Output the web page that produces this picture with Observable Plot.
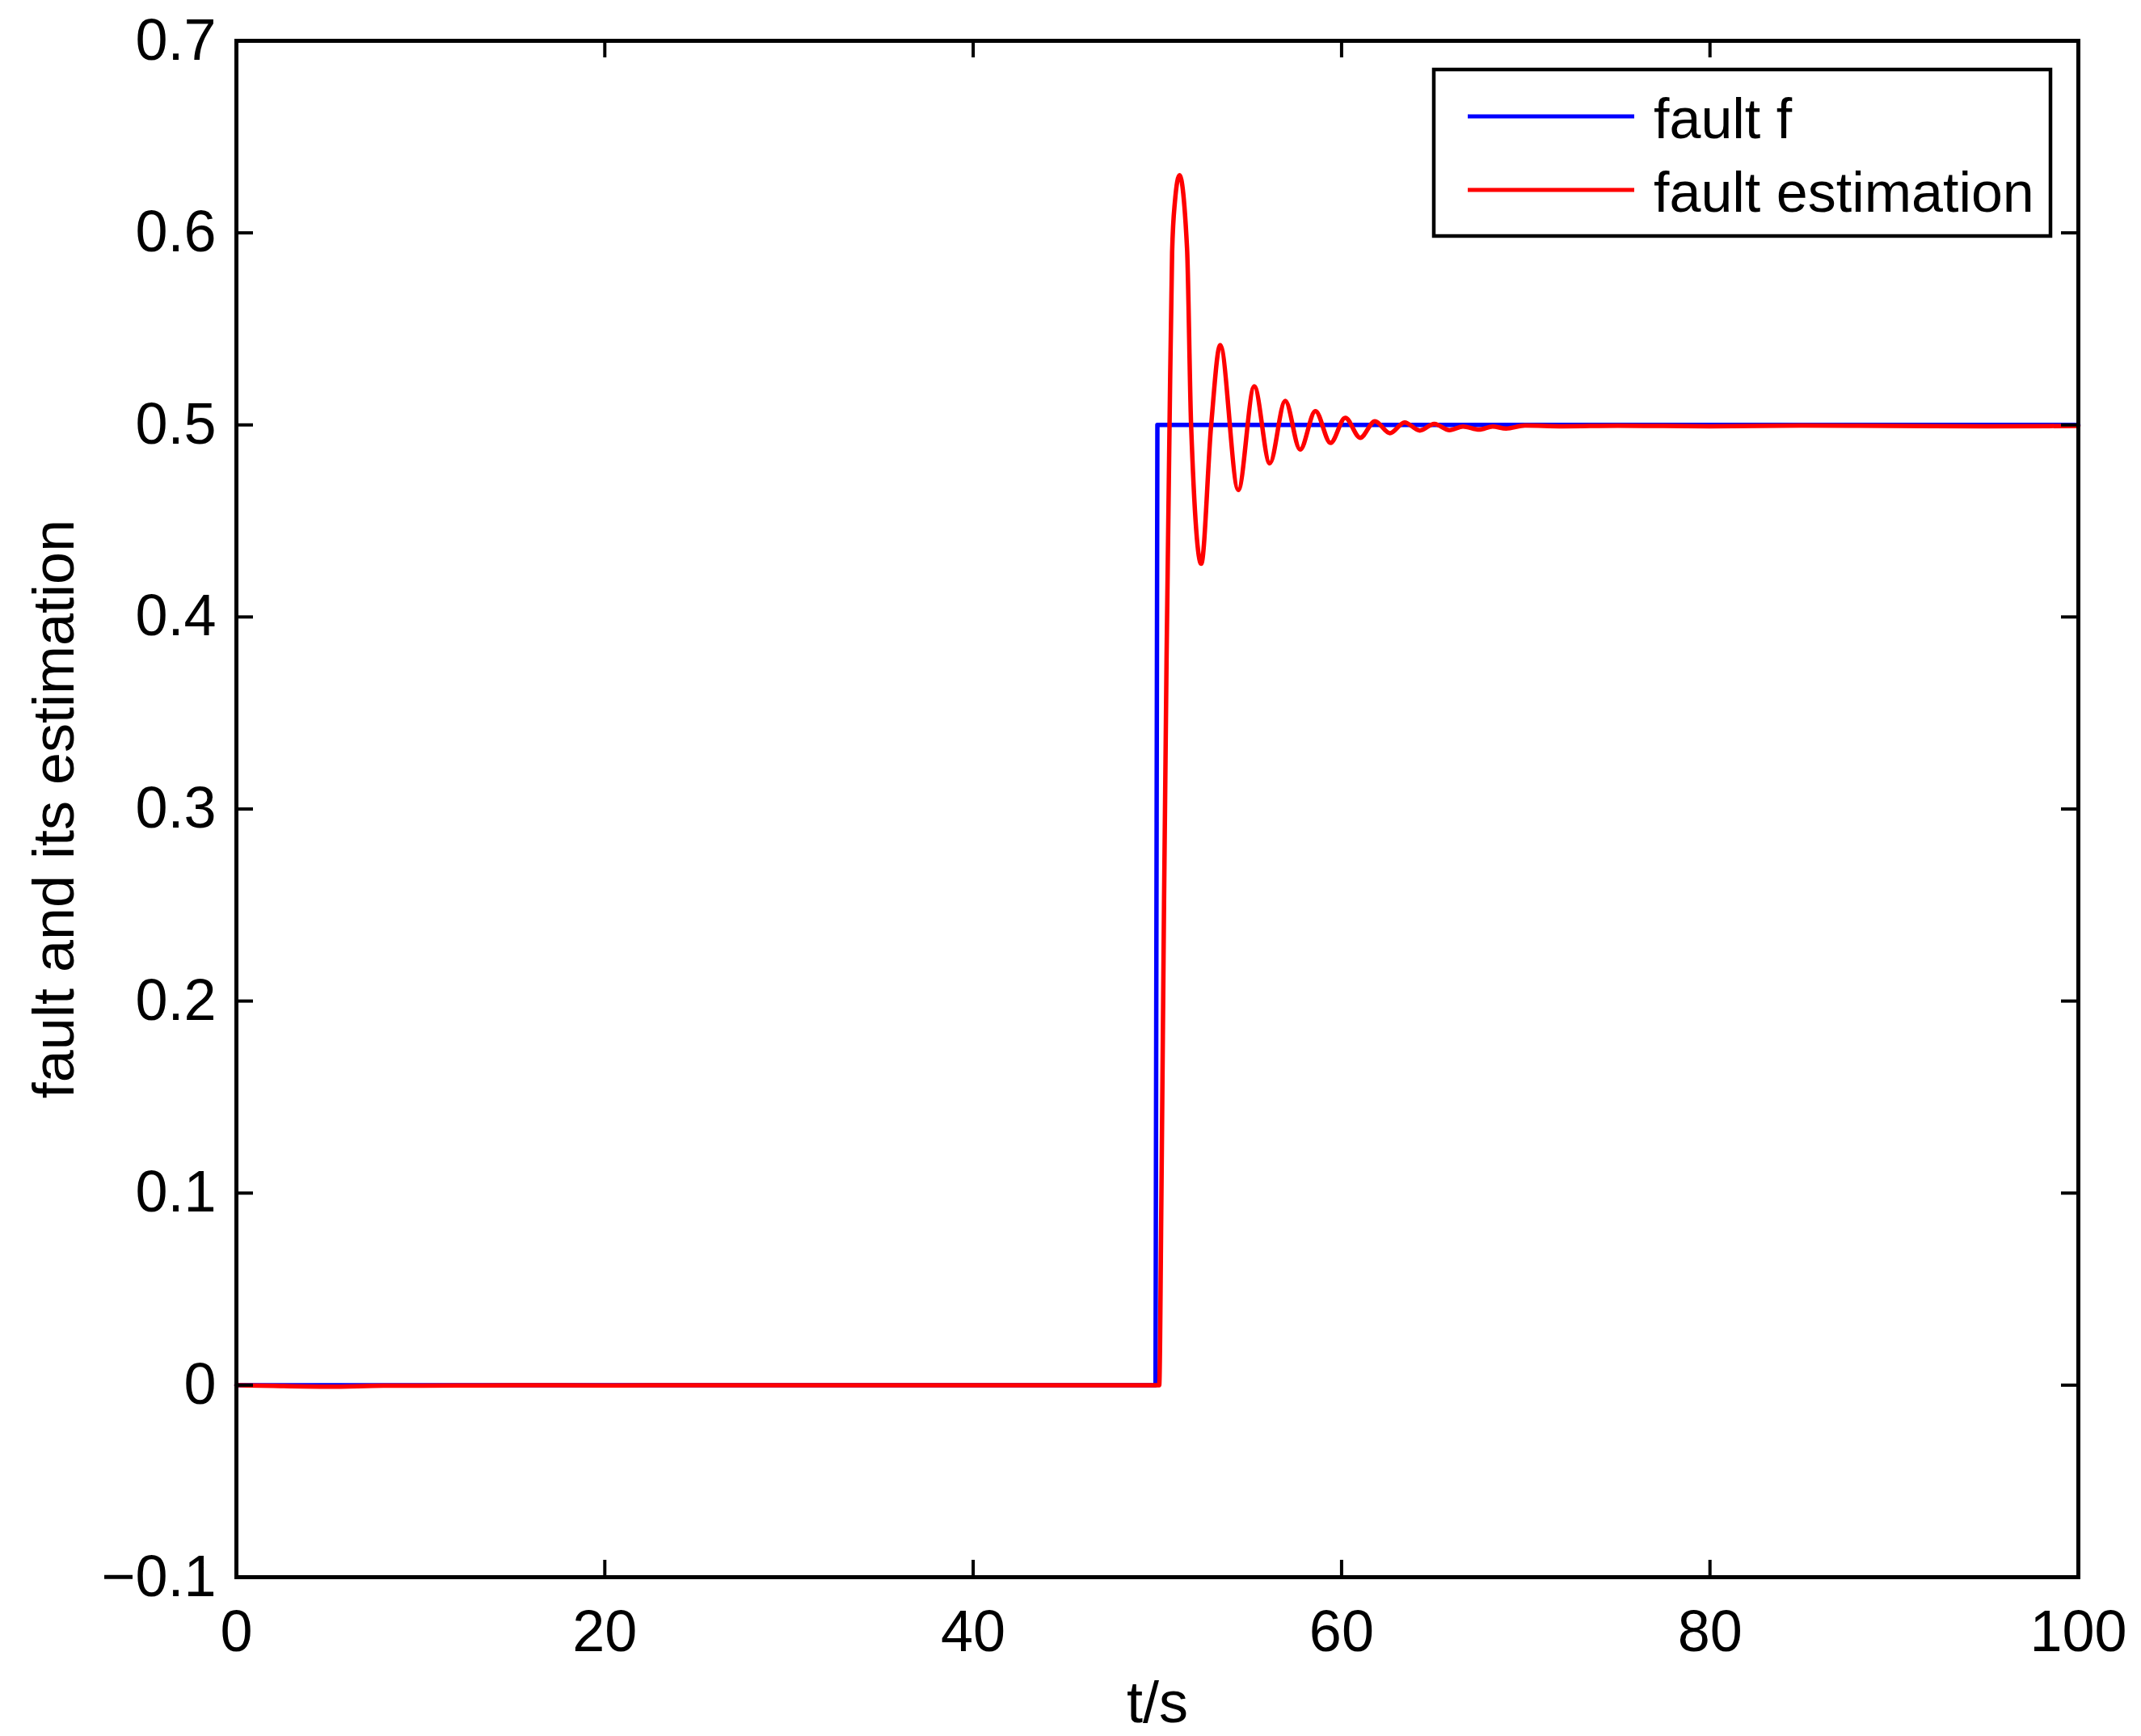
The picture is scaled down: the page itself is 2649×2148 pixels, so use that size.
<!DOCTYPE html>
<html>
<head>
<meta charset="utf-8">
<script src="https://cdn.jsdelivr.net/npm/d3@7"></script>
<script src="https://cdn.jsdelivr.net/npm/@observablehq/plot@0.6"></script>
<style>
  html, body { margin: 0; padding: 0; background: #fff; }
  #chart { position: relative; width: 2649px; height: 2148px; }
</style>
</head>
<body>
<div id="chart"></div>
<script>
// ---- data ----
const xTicks = [0, 20, 40, 60, 80, 100];
const yTicks = [-0.1, 0, 0.1, 0.2, 0.3, 0.4, 0.5, 0.6, 0.7];
const xLabel = "t/s";
const yLabel = "fault and its estimation";
const seriesNames = ["fault f", "fault estimation"];
const seriesColors = ["#0000ff", "#ff0000"];

// fault f (step)
const faultT = [0, 49.9, 50.0, 100];
const faultV = [0, 0, 0.5, 0.5];

// fault estimation
const estT = [0, 2, 5, 8, 12, 15, 20, 25, 30, 35, 40, 45, 50.1,
  50.22, 50.36, 50.5, 50.66, 50.8, 50.95, 51.2, 51.61, 51.83, 52.38,
  52.92, 53.41, 54.39, 55.26, 56.10, 56.94, 57.75, 58.58, 59.40, 60.20,
  61.01, 61.81, 62.62, 63.42, 64.25, 65.03, 65.86, 66.59, 67.47, 68.20,
  68.93, 69.96, 72, 75, 80, 85, 90, 95, 100];
const estV = [0, -0.0004, -0.0008, -0.0003, -0.0002, 0, -0.0002, 0, 0, -0.0001, 0, 0, 0,
  0.10, 0.25, 0.38, 0.50, 0.59, 0.616, 0.630, 0.592, 0.50, 0.4277,
  0.50, 0.5416, 0.4661, 0.5201, 0.4800, 0.5125, 0.4872, 0.5072, 0.4906, 0.5037,
  0.4933, 0.5019, 0.4957, 0.5013, 0.4971, 0.5005, 0.4973, 0.4992, 0.4976, 0.4992,
  0.4981, 0.4997, 0.4993, 0.4996, 0.4993, 0.4997, 0.4995, 0.4993, 0.4995];

const fault = faultT.map((t, i) => ({t, v: faultV[i]}));
const est = estT.map((t, i) => ({t, v: estV[i]}));

const FONT = "'Liberation Sans', Arial, Helvetica, sans-serif";
const fmt = d3.format("~g");

const chart = Plot.plot({
  width: 2649,
  height: 2148,
  marginLeft: 292,
  marginRight: 78,
  marginTop: 50,
  marginBottom: 197,
  style: {fontFamily: FONT, fontSize: "70px", background: "white", color: "black", overflow: "visible"},
  x: {domain: [0, 100], ticks: xTicks},
  y: {domain: [-0.1, 0.7], ticks: yTicks},
  marks: [
    Plot.line(fault, {x: "t", y: "v", stroke: seriesColors[0], strokeWidth: 5.5}),
    Plot.line(est, {x: "t", y: "v", stroke: seriesColors[1], strokeWidth: 5.5, curve: "monotone-x"}),
    // inward ticks on all four sides
    Plot.tickX(xTicks, {x: d => d, insetTop: 1880, stroke: "black", strokeWidth: 4}),
    Plot.tickX(xTicks, {x: d => d, insetBottom: 1880, stroke: "black", strokeWidth: 4}),
    Plot.tickY(yTicks, {y: d => d, insetRight: 2258, stroke: "black", strokeWidth: 4}),
    Plot.tickY(yTicks, {y: d => d, insetLeft: 2258, stroke: "black", strokeWidth: 4}),
    Plot.frame({stroke: "black", strokeWidth: 5}),
    Plot.axisX(xTicks, {tickSize: 0, tickPadding: 40, fontSize: 72, tickFormat: fmt, label: null}),
    Plot.axisY(yTicks, {tickSize: 0, tickPadding: 25, fontSize: 72, tickFormat: fmt, label: null}),
    Plot.text([xLabel], {text: d => d, frameAnchor: "bottom", dy: 179, lineAnchor: "bottom", textAnchor: "middle", fontSize: 72}),
    Plot.text([yLabel], {text: d => d, frameAnchor: "left", rotate: -90, dx: -202, lineAnchor: "bottom", textAnchor: "middle", fontSize: 72})
  ]
});

// legend box (top right, inside the plot area)
const svg = d3.select(chart);
const lg = svg.append("g").attr("class", "legend");
lg.append("rect").attr("x", 1774).attr("y", 86).attr("width", 763).attr("height", 206)
  .attr("fill", "white").attr("stroke", "black").attr("stroke-width", 4.5);
seriesNames.forEach((name, i) => {
  const yy = 144 + i * 91;
  lg.append("line").attr("x1", 1816).attr("x2", 2022).attr("y1", yy).attr("y2", yy)
    .attr("stroke", seriesColors[i]).attr("stroke-width", 5);
  lg.append("text").attr("x", 2046).attr("y", yy + 27)
    .attr("text-anchor", "start")
    .attr("font-family", FONT).attr("font-size", 70).attr("fill", "black").text(name);
});

document.getElementById("chart").appendChild(chart);
</script>
</body>
</html>
